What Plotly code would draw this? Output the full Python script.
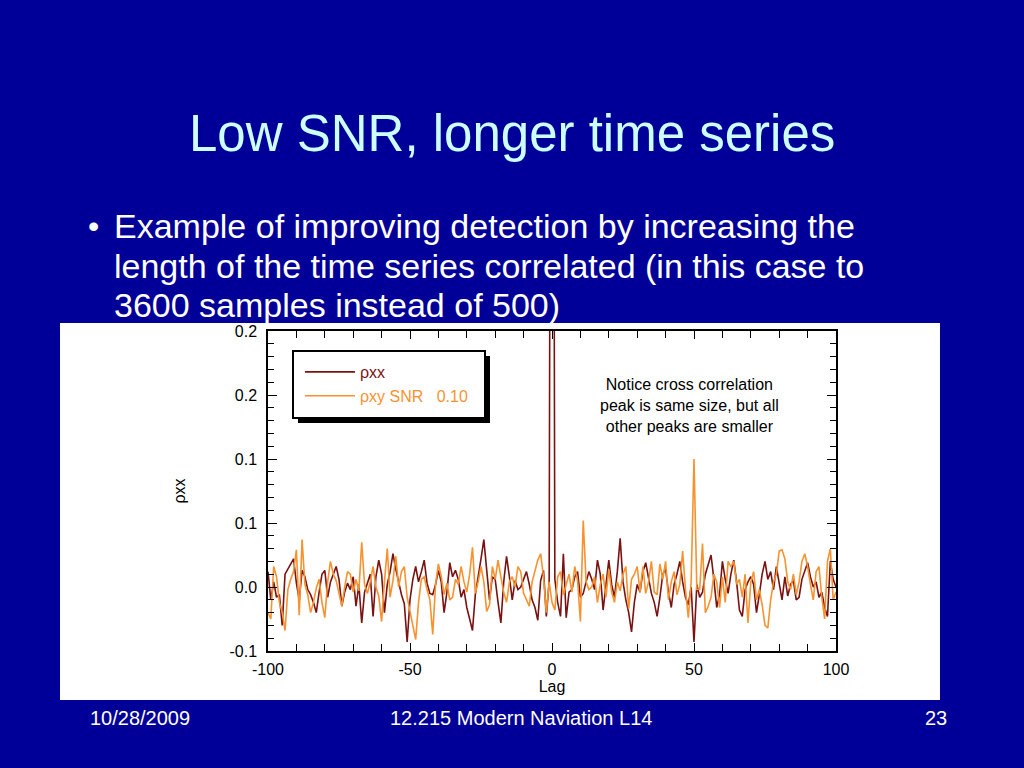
import plotly.graph_objects as go

# ---------------- data ----------------
lags = list(range(-100, 101))

rho_xx = [
    # -100 .. -91
    0.012, -0.010, 0.004, -0.008, -0.006, -0.030, 0.010, 0.014, 0.018, 0.022,
    # -90 .. -81
    0.003, -0.010, 0.013, 0.008, -0.002, -0.006, -0.012, -0.020, -0.004, 0.010,
    # -80 .. -71
    0.013, -0.008, 0.004, 0.010, 0.016, 0.006, -0.015, -0.004, 0.003, -0.002,
    # -70 .. -61
    0.008, -0.015, 0.002, -0.028, -0.004, 0.003, 0.010, -0.023, 0.008, 0.021,
    # -60 .. -51
    0.010, -0.020, 0.002, 0.012, 0.026, 0.014, 0.003, -0.006, -0.013, -0.043,
    # -50 .. -41
    -0.010, 0.006, 0.016, 0.004, 0.012, 0.021, 0.003, -0.005, -0.006, 0.002,
    # -40 .. -31
    0.013, 0.004, -0.020, -0.004, 0.019, 0.008, 0.013, 0.006, -0.008, -0.002,
    # -30 .. -21
    -0.016, -0.025, -0.034, -0.006, 0.010, 0.022, 0.037, 0.012, -0.010, 0.008,
    # -20 .. -11
    0.006, -0.012, -0.028, 0.004, 0.024, 0.008, -0.010, 0.005, -0.002, 0.000,
    # -10 .. -1
    0.006, 0.012, 0.002, -0.010, -0.016, -0.026, 0.005, 0.013, -0.023, 0.004,
    # 0
    1.000,
    # 1 .. 10
    0.006, -0.012, -0.023, 0.026, -0.024, -0.004, -0.002, 0.008, 0.012, -0.008,
    # 11 .. 20
    -0.005, 0.004, 0.012, 0.006, -0.002, 0.021, 0.010, -0.018, 0.004, 0.021,
    # 21 .. 30
    0.002, -0.008, 0.012, 0.038, 0.004, -0.010, -0.020, -0.035, -0.012, 0.002,
    # 31 .. 40
    -0.004, 0.012, 0.019, 0.006, -0.005, -0.012, -0.023, -0.008, 0.010, 0.014,
    # 41 .. 50
    -0.004, -0.016, 0.002, 0.010, 0.020, 0.004, -0.008, -0.014, 0.000, -0.043,
    # 51 .. 60
    0.002, -0.008, -0.004, 0.010, 0.018, 0.025, 0.006, -0.016, -0.006, 0.020,
    # 61 .. 70
    0.006, -0.005, 0.010, 0.021, 0.004, -0.018, -0.023, -0.002, 0.004, 0.008,
    # 71 .. 80
    0.002, -0.020, -0.006, 0.010, 0.020, 0.006, 0.012, -0.002, 0.016, 0.004,
    # 81 .. 90
    -0.010, 0.008, -0.007, 0.002, 0.005, -0.010, -0.008, 0.006, 0.012, 0.019,
    # 91 .. 100
    0.008, 0.000, 0.004, -0.008, -0.004, -0.016, -0.023, 0.020, 0.006, 0.000,
]

rho_xy = [
    # -100 .. -91
    -0.020, -0.025, 0.016, 0.008, -0.012, -0.020, -0.034, -0.002, 0.006, 0.012,
    # -90 .. -81
    0.029, -0.022, 0.037, 0.002, -0.006, -0.020, -0.012, -0.001, 0.006, -0.012,
    # -80 .. -71
    -0.024, 0.004, 0.020, 0.010, 0.005, -0.004, -0.015, 0.000, 0.012, 0.010,
    # -70 .. -61
    -0.004, 0.006, -0.003, 0.035, 0.002, -0.005, 0.004, 0.016, 0.000, -0.007,
    # -60 .. -51
    -0.027, 0.004, 0.030, -0.008, 0.005, 0.024, 0.000, 0.012, 0.016, -0.008,
    # -50 .. -41
    -0.018, -0.030, -0.041, -0.012, 0.006, 0.008, -0.002, -0.010, -0.037, 0.002,
    # -40 .. -31
    0.018, 0.008, -0.006, 0.003, -0.010, -0.008, 0.006, 0.002, 0.016, 0.004,
    # -30 .. -21
    -0.004, 0.010, 0.031, -0.005, 0.004, 0.016, 0.004, -0.019, -0.014, 0.016,
    # -20 .. -11
    0.006, 0.021, 0.008, -0.004, -0.012, 0.004, 0.008, 0.000, 0.016, 0.012,
    # -10 .. -1
    -0.005, -0.010, -0.015, 0.004, 0.012, 0.021, 0.026, 0.008, -0.020, 0.004,
    # 0
    -0.012,
    # 1 .. 10
    -0.018, 0.008, 0.012, -0.006, 0.002, 0.010, -0.004, 0.016, 0.005, -0.027,
    # 11 .. 20
    0.052, 0.004, -0.002, 0.000, 0.008, -0.012, 0.002, 0.010, -0.008, 0.014,
    # 21 .. 30
    -0.004, -0.012, 0.004, -0.003, 0.010, 0.016, -0.017, 0.006, 0.010, 0.016,
    # 31 .. 40
    -0.004, 0.016, -0.005, 0.004, 0.020, -0.004, -0.006, 0.018, 0.006, 0.020,
    # 41 .. 50
    -0.010, 0.004, 0.012, -0.006, 0.002, 0.028, -0.002, -0.024, 0.004, 0.100,
    # 51 .. 60
    -0.002, -0.002, 0.034, -0.020, -0.015, -0.008, 0.010, 0.004, -0.016, 0.008,
    # 61 .. 70
    -0.012, 0.020, 0.016, 0.020, 0.002, 0.006, -0.008, 0.010, -0.028, 0.004,
    # 71 .. 80
    0.012, -0.010, -0.002, -0.014, -0.030, -0.032, -0.010, 0.004, 0.010, 0.028,
    # 81 .. 90
    0.029, 0.022, 0.004, -0.002, 0.010, -0.006, 0.004, 0.020, 0.026, 0.016,
    # 91 .. 100
    0.002, -0.010, 0.012, 0.016, -0.008, -0.025, 0.020, 0.030, -0.010, -0.004,
]

x_tickvals = [-100, -50, 0, 50, 100]
x_ticktext = ["-100", "-50", "0", "50", "100"]
y_tickvals = [-0.05, 0.0, 0.05, 0.10, 0.15, 0.20]
y_ticktext = ["-0.1", "0.0", "0.1", "0.1", "0.2", "0.2"]

title_text = "Low SNR, longer time series"
bullet_lines = [
    "Example of improving detection by increasing the",
    "length of the time series correlated (in this case to",
    "3600 samples instead of 500)",
]
note_text = "Notice cross correlation<br>peak is same size, but all<br>other peaks are smaller"
footer_left = "10/28/2009"
footer_mid = "12.215 Modern Naviation L14"
footer_right = "23"

# ---------------- styling ----------------
W, H = 1024, 768
BG = "#000099"
DARK = "#7a1212"
ORANGE = "#f7922f"
FONT = "Liberation Sans, Arial, Helvetica, sans-serif"
CF = 16  # chart font size


def px(x):
    return x / W


def py(y):
    return 1 - y / H


fig = go.Figure()
fig.add_trace(go.Scatter(
    x=lags, y=rho_xx, mode="lines",
    line=dict(color=DARK, width=1.6),
    name="<span style='color:%s'>ρxx</span>" % DARK,
    legendgroup="a",
))
fig.add_trace(go.Scatter(
    x=lags, y=rho_xy, mode="lines",
    line=dict(color=ORANGE, width=1.6),
    name="<span style='color:%s'>ρxy SNR   0.10</span>" % ORANGE,
    legendgroup="b",
))

axis_common = dict(
    showline=True, linecolor="black", linewidth=1.5, mirror="ticks",
    ticks="inside", tickcolor="black", tickwidth=1.2,
    showgrid=False, zeroline=False, automargin=False,
    tickfont=dict(family=FONT, size=CF, color="black"),
)

fig.update_xaxes(
    range=[-100, 100], domain=[px(268), px(836)],
    tickvals=x_tickvals, ticktext=x_ticktext, ticklen=8, ticklabelstandoff=3,
    minor=dict(dtick=10, tick0=0, ticks="inside", ticklen=7, tickcolor="black", tickwidth=1.2),
    title=dict(text="Lag", font=dict(family=FONT, size=CF, color="black"), standoff=0),
    **axis_common,
)
fig.update_yaxes(
    range=[-0.05, 0.20], domain=[py(651), py(331)],
    tickvals=y_tickvals, ticktext=y_ticktext, ticklen=9, ticklabelstandoff=6,
    minor=dict(dtick=0.01, tick0=0, ticks="inside", ticklen=6, tickcolor="black", tickwidth=1.2),
    title=dict(text="ρxx", font=dict(family=FONT, size=CF, color="black"), standoff=40),
    **axis_common,
)

shapes = [
    # white panel
    dict(type="rect", xref="paper", yref="paper", x0=px(60), x1=px(940), y0=py(700), y1=py(323),
         fillcolor="white", line=dict(width=0), layer="below"),
    # legend shadow
    dict(type="rect", xref="paper", yref="paper", x0=px(298), x1=px(490), y0=py(423), y1=py(356),
         fillcolor="black", line=dict(width=0), layer="above"),
    # legend box
    dict(type="rect", xref="paper", yref="paper", x0=px(293), x1=px(485), y0=py(418), y1=py(351),
         fillcolor="white", line=dict(color="black", width=2), layer="above"),
]

annotations = [
    dict(text=title_text, x=px(512), y=py(134), xref="paper", yref="paper",
         xanchor="center", yanchor="middle", showarrow=False,
         font=dict(family=FONT, size=51, color="#ccffff")),
    dict(text="•", x=px(86), y=py(226), xref="paper", yref="paper",
         xanchor="left", yanchor="middle", showarrow=False,
         font=dict(family=FONT, size=32, color="white")),
]
for i, line in enumerate(bullet_lines):
    annotations.append(dict(text=line, x=px(112), y=py(226 + 39.5 * i), xref="paper", yref="paper",
                            xanchor="left", yanchor="middle", showarrow=False,
                            font=dict(family=FONT, size=34, color="white")))
annotations += [
    dict(text=note_text, x=px(689), y=py(405), xref="paper", yref="paper",
         xanchor="center", yanchor="middle", showarrow=False, align="center",
         font=dict(family=FONT, size=16, color="black")),
    dict(text=footer_left, x=px(88), y=py(718), xref="paper", yref="paper",
         xanchor="left", yanchor="middle", showarrow=False,
         font=dict(family=FONT, size=20, color="white")),
    dict(text=footer_mid, x=px(521), y=py(718), xref="paper", yref="paper",
         xanchor="center", yanchor="middle", showarrow=False,
         font=dict(family=FONT, size=20, color="white")),
    dict(text=footer_right, x=px(949), y=py(718), xref="paper", yref="paper",
         xanchor="right", yanchor="middle", showarrow=False,
         font=dict(family=FONT, size=20, color="white")),
]

fig.update_layout(
    width=W, height=H,
    margin=dict(l=0, r=0, t=0, b=0, pad=0),
    paper_bgcolor=BG, plot_bgcolor="white",
    showlegend=True,
    legend=dict(x=px(300), y=py(355), xanchor="left", yanchor="top",
                bgcolor="rgba(0,0,0,0)", borderwidth=0,
                font=dict(family=FONT, size=CF, color="black"),
                tracegroupgap=0, itemwidth=50),
    shapes=shapes, annotations=annotations,
)

fig.write_html(
    "out.html",
    config={"displayModeBar": False},
    post_script="document.body.style.margin='0';document.body.style.overflow='hidden';",
)
